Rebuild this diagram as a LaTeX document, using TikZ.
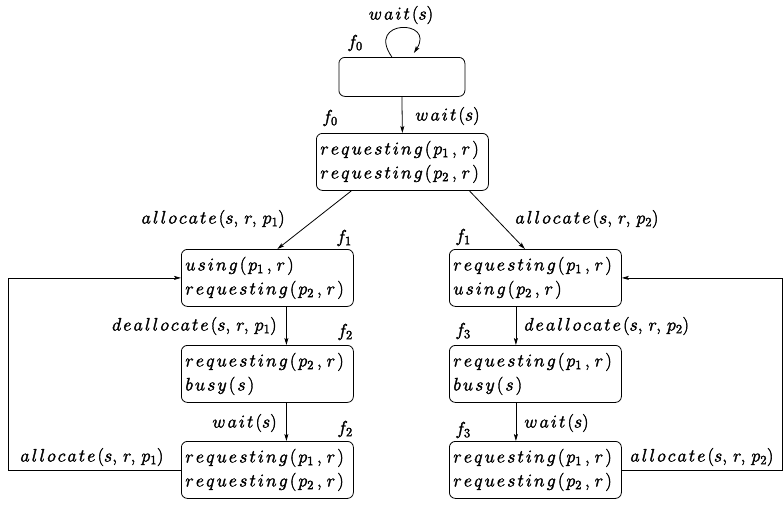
\RequirePackage{fix-cm}
\documentclass[tikz,border=0pt]{standalone}
\usetikzlibrary{arrows.meta}
\newcommand\lsp{\kern2.1pt}
\newcommand\heavy{\special{pdf:literal direct 2 Tr 0.35 w}}
\def\spaced#1{\spacedi#1\relax}
\def\spacedi#1{\ifx#1\relax\else#1\lsp\expandafter\spacedi\fi}
\newcommand\st[2]{$\spaced{#1(}p_{#2}\kern3pt,\kern2pt r\lsp)$}
\newcommand\bsy{$\spaced{busy(}s\lsp)$}
\newcommand\act[2]{$\spaced{#1}(#2)$}
\tikzset{
  every node/.style={font=\fontsize{18}{24}\selectfont\heavy},
  state/.style={draw, rounded corners=6pt, anchor=north west, minimum width=172pt,
    minimum height=57pt, inner xsep=4pt, inner ysep=3pt, text width=164pt, align=left},
  lbl/.style={inner sep=0pt},
  conn/.style={line width=0.8pt, -{Stealth[length=7pt,width=4pt,inset=1.5pt]}}
}
\begin{document}
\begin{tikzpicture}[x=1pt,y=-1pt,line width=0.8pt]
\useasboundingbox (0,0) rectangle (783,504);
% boxes
\node[state, text width=118pt, minimum width=126pt, minimum height=39pt] (t0) at (338.5,57) {};
\node[state, minimum width=171pt] (b2) at (316,133) {\st{requesting}{1}\\\st{requesting}{2}};
\node[state] (A) at (181,249) {$\spaced{using(}p_1\kern3pt,\kern2pt r\lsp)$\\\st{requesting}{2}};
\node[state] (B) at (181,345) {\st{requesting}{2}\\\bsy};
\node[state] (C) at (181,441) {\st{requesting}{1}\\\st{requesting}{2}};
\node[state] (D) at (449,249) {\st{requesting}{1}\\$\spaced{using(}p_2\kern3pt,\kern2pt r\lsp)$};
\node[state] (E) at (449,345) {\st{requesting}{1}\\\bsy};
\node[state] (F) at (449,441) {\st{requesting}{1}\\\st{requesting}{2}};
% self loop
\coordinate (ls) at ([xshift=-10pt]t0.north);
\coordinate (le) at ([xshift=12pt,yshift=4pt]t0.north);
\draw[conn] (ls) .. controls (365,19) and (436,19) .. (le);
% connectors
\draw[conn] (t0.south) -- (b2.north);
\draw[conn] ([xshift=-51pt]b2.south) -- ([xshift=10pt]A.north);
\draw[conn] ([xshift=67pt]b2.south) -- ([xshift=-10.5pt]D.north);
\draw[conn] ([xshift=19pt]A.south) -- ([xshift=19pt]B.north);
\draw[conn] ([xshift=19pt]B.south) -- ([xshift=19pt]C.north);
\draw[conn] ([xshift=-19.5pt]D.south) -- ([xshift=-19.5pt]E.north);
\draw[conn] ([xshift=-19.5pt]E.south) -- ([xshift=-19.5pt]F.north);
\coordinate (lc) at (8,0);
\coordinate (rc) at (782,0);
\draw[conn] (C.west) -- (C.west -| lc) |- (A.west);
\draw[conn] (F.east) -- (F.east -| rc) |- (D.east);
% labels
\node[lbl] (l1) at (401,15) {\act{wait}{s}};
\node[lbl] (f1) at (355,43) {$f_0$};
\node[lbl] (f2) at (330,118) {$f_0$};
\node[lbl, anchor=west] (l2) at (415,116) {\act{wait}{s}};
\node[lbl, anchor=east] (l3) at (285,219) {\act{allocate}{s,\,r,\,p_1}};
\node[lbl] (f3) at (344,238) {$f_1$};
\node[lbl, anchor=west] (l4) at (515,219) {\act{allocate}{s,\,r,\,p_2}};
\node[lbl] (f4) at (463,237) {$f_1$};
\node[lbl, anchor=east] (l5) at (277,326) {\act{deallocate}{s,\,r,\,p_1}};
\node[lbl] (f5) at (345,332) {$f_2$};
\node[lbl, anchor=west] (l6) at (524,326) {\act{deallocate}{s,\,r,\,p_2}};
\node[lbl] (f6) at (463,331) {$f_3$};
\node[lbl, anchor=east] (l7) at (277,423) {\act{wait}{s}};
\node[lbl] (f7) at (345,429) {$f_2$};
\node[lbl, anchor=west] (l8) at (524,423) {\act{wait}{s}};
\node[lbl] (f8) at (463,430) {$f_3$};
\node[lbl, anchor=west] (l9) at (20,457) {\act{allocate}{s,\,r,\,p_1}};
\node[lbl, anchor=west] (l10) at (630,457) {\act{allocate}{s,\,r,\,p_2}};
\end{tikzpicture}
\end{document}
